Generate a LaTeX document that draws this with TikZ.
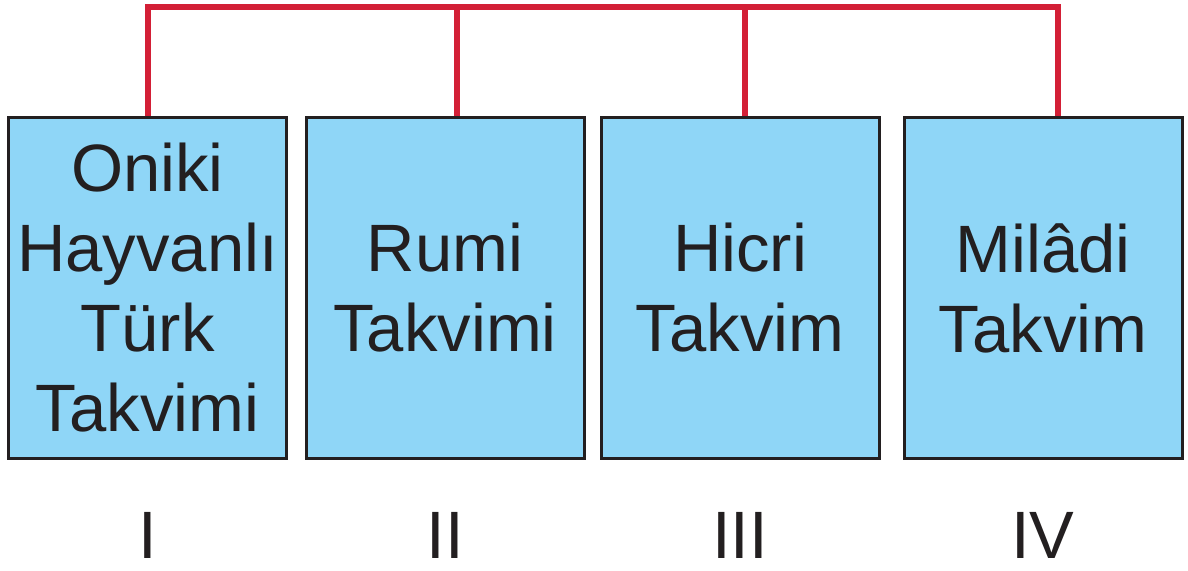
\documentclass[tikz,border=0pt]{standalone}
\usepackage{fontspec}
\setmainfont{Liberation Sans}
\definecolor{kutu}{HTML}{8FD6F7}
\definecolor{cerceve}{HTML}{231F20}
\definecolor{bag}{HTML}{D31F36}
\tikzset{
  takvim/.style={draw=cerceve, line width=1.5pt, fill=kutu, rectangle,
    minimum width=139pt, minimum height=170pt, inner sep=0pt,
    align=center, font=\fontsize{33.5}{40}\selectfont, text=cerceve},
  numara/.style={font=\fontsize{33.5}{40}\selectfont, text=cerceve},
  hat/.style={draw=bag, line width=3pt}
}
\begin{document}
\begin{tikzpicture}[x=0.5pt,y=-0.5pt]
  \useasboundingbox (0,0) rectangle (1188,571);
  % kutular
  \node[takvim] (oniki) at (147.5,288) {Oniki\\Hayvanlı\\Türk\\Takvimi};
  \node[takvim] (rumi) at (445,288) {Rumi\\Takvimi};
  \node[takvim] (hicri) at (740,288) {Hicri\\Takvim};
  \node[takvim] (miladi) at (1043,288) {Milâdi\\Takvim};
  % numaralar
  \node[numara] (n1) at (147.5,535) {I};
  \node[numara] (n2) at (445,535) {II};
  \node[numara] (n3) at (740,535) {III};
  \node[numara] (n4) at (1043,535) {IV};
  % baglantilar
  \coordinate (u1) at (148,7);
  \coordinate (u2) at (457,7);
  \coordinate (u3) at (745,7);
  \coordinate (u4) at (1058,7);
  \draw[hat] (oniki.north -| u1) -- (u1) -- (u4) -- (miladi.north -| u4);
  \draw[hat] (u2) -- (rumi.north -| u2);
  \draw[hat] (u3) -- (hicri.north -| u3);
\end{tikzpicture}
\end{document}
